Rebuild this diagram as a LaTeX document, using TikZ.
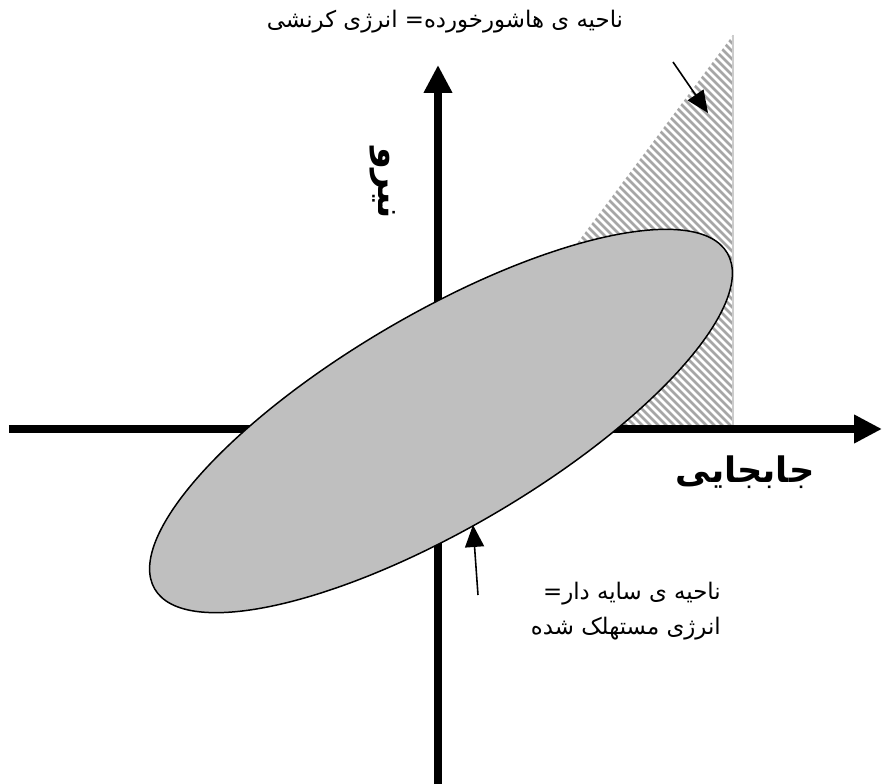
\documentclass[tikz,border=0pt]{standalone}
\usepackage{fontspec}
\newfontfamily\arabicfont[Script=Arabic]{DejaVu Sans}
\TeXXeTstate=1
\usetikzlibrary{arrows.meta}

\begin{document}
\begin{tikzpicture}[x=0.02cm, y=0.02cm,
    axis/.style={line width=4pt, -{Triangle[length=0.56cm, width=0.54cm]}},
    pointer/.style={line width=0.9pt, -{Triangle[length=0.44cm, width=0.38cm]}},
    hatch/.style={gray!70, line width=1.5pt},
    label/.style={font=\arabicfont\fontsize{13}{20}\selectfont, align=right},
    axlabel/.style={font=\arabicfont\bfseries\fontsize{20}{24}\selectfont}]
    \useasboundingbox (-438,-355) rectangle (444,429);

    \def\peakx{295}
    \def\peaky{394}

    \coordinate (O) at (0,0);
    \coordinate (peak) at (\peakx,\peaky);
    \coordinate (foot) at (\peakx,0);

    % hatched triangle
    \begin{scope}
        \clip (O) -- (peak) -- (foot) -- cycle;
        \foreach \c in {0,8,...,704}
            \draw[hatch] (\c+10,-10) -- (\c-420,420);
    \end{scope}
    \draw[gray!40, line width=0.8pt] (foot) -- (peak);

    % axes
    \coordinate (xl) at (-429,0);
    \coordinate (xr) at (444,0);
    \coordinate (yb) at (0,-355);
    \coordinate (yt) at (0,364);
    \draw[axis] (xl) -- (xr);
    \draw[axis] (yb) -- (yt);

    % pointers
    \coordinate (p1s) at (235,367);
    \coordinate (p1e) at (270,316);
    \draw[pointer] (p1s) -- (p1e);
    \coordinate (p2s) at (40,-166);
    \coordinate (p2e) at (35,-96);
    \draw[pointer] (p2s) -- (p2e);

    % loop
    \begin{scope}[shift={(3,8)}, rotate=30.4]
        \draw[fill=black!25, line width=0.85pt] (0,0) ellipse (6.64cm and 2.14cm);
    \end{scope}

    \node[label] (strain) at (7,407) {\beginR ناحیه ی هاشورخورده= انرژی کرنشی\endR};
    \node[label, anchor=east] (loss) at (289,-182) {\beginR ناحیه ی سایه دار=\endR\\ \beginR انرژی مستهلک شده\endR};
    \node[axlabel] (disp) at (307,-43) {\beginR جابجایی\endR};
    \node[axlabel, rotate=-90] (force) at (-55,246) {\beginR نیرو\endR};
\end{tikzpicture}
\end{document}
